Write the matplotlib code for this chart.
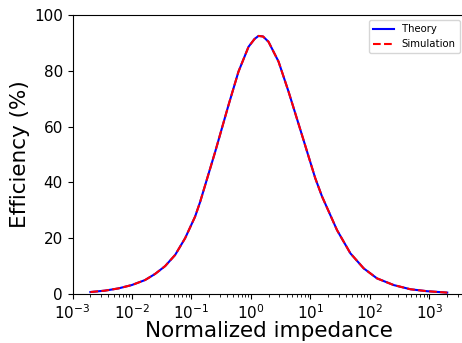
import matplotlib
matplotlib.use("Agg")
import matplotlib.pyplot as plt

# Values
impedance = [0.002, 0.0035, 0.0059, 0.0099, 0.0166, 0.0245, 0.0361, 0.0532,
             0.0783, 0.115, 0.140, 0.251, 0.420, 0.618, 0.912, 1.15, 1.343,
             1.6, 1.977, 2.915, 4.30, 7.22, 12.08, 15.67, 28.05, 47.0, 78.7,
             132, 252, 481, 918, 2000]
theory = [0.7, 1.2, 2.0, 3.2, 5.0, 7.2, 10.0, 14.0,
          20.0, 27.7, 33.0, 51.0, 67.7, 79.7, 88.6, 91.4, 92.5,
          92.3, 90.4, 83.3, 72.5, 57.0, 41.5, 35.0, 22.9, 14.6, 9.2,
          5.6, 3.2, 1.7, 1.0, 0.5]
simulation = list(theory)
x_ticks = [1e-3, 1e-2, 1e-1, 1e0, 1e1, 1e2, 1e3]

fig = plt.figure(figsize=(4.62, 3.43), dpi=100)
ax = fig.add_axes([72.5 / 462, (343 - 294) / 343, (465 - 72.5) / 462, (294 - 15) / 343])
ax.plot(impedance, theory, color="b", linewidth=1.5, label="Theory")
ax.plot(impedance, simulation, color="r", linestyle="--", linewidth=1.5, label="Simulation")
ax.set_xscale("log")
ax.set_xticks(x_ticks)
ax.set_xlim(1e-3, 10 ** 3.6)
ax.set_ylim(0, 100)
ax.set_xlabel("Normalized impedance", fontsize=15.5, labelpad=-1)
ax.set_ylabel("Efficiency (%)", fontsize=15.5, labelpad=3)
ax.tick_params(labelsize=11)
ax.legend(loc="upper right", fontsize=7.3)
fig.savefig("out.png", dpi=100)
